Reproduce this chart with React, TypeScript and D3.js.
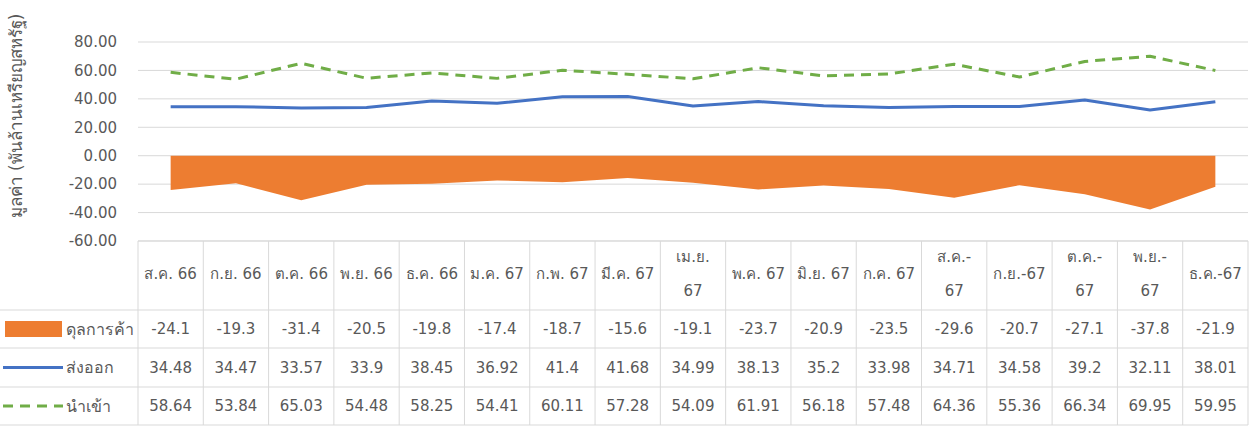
import React from 'react';
import * as d3 from 'd3';

const months = [
  ['ส.ค. 66'], ['ก.ย. 66'], ['ต.ค. 66'], ['พ.ย. 66'], ['ธ.ค. 66'], ['ม.ค. 67'],
  ['ก.พ. 67'], ['มี.ค. 67'], ['เม.ย.', '67'], ['พ.ค. 67'], ['มิ.ย. 67'], ['ก.ค. 67'],
  ['ส.ค.-', '67'], ['ก.ย.-67'], ['ต.ค.-', '67'], ['พ.ย.-', '67'], ['ธ.ค.-67'],
];
const balance = [-24.1, -19.3, -31.4, -20.5, -19.8, -17.4, -18.7, -15.6, -19.1, -23.7, -20.9, -23.5, -29.6, -20.7, -27.1, -37.8, -21.9];
const exports = [34.48, 34.47, 33.57, 33.9, 38.45, 36.92, 41.4, 41.68, 34.99, 38.13, 35.2, 33.98, 34.71, 34.58, 39.2, 32.11, 38.01];
const imports = [58.64, 53.84, 65.03, 54.48, 58.25, 54.41, 60.11, 57.28, 54.09, 61.91, 56.18, 57.48, 64.36, 55.36, 66.34, 69.95, 59.95];
const yTicks = [80, 60, 40, 20, 0, -20, -40, -60];

const W = 1251;
const H = 430;
const left = 138;
const right = 1248;
const top = 42;
const bottom = 241;
const rowBounds = [241, 310, 348, 387, 425];
const font = "'DejaVu Sans', 'Noto Sans', sans-serif";
const textColor = '#595959';
const gridColor = '#d9d9d9';

export default function App() {
  const x = d3.scaleBand<number>().domain(d3.range(months.length)).range([left, right]);
  const cx = (i: number) => (x(i) as number) + x.bandwidth() / 2;
  const y = d3.scaleLinear().domain([-60, 80]).range([bottom, top]);

  const area = d3.area<number>().x((_, i) => cx(i)).y0(y(0)).y1(d => y(d));
  const line = d3.line<number>().x((_, i) => cx(i)).y(d => y(d));

  const rows = [
    { name: 'ดุลการค้า', values: balance, kind: 'area' },
    { name: 'ส่งออก', values: exports, kind: 'line' },
    { name: 'นำเข้า', values: imports, kind: 'dash' },
  ];

  return (
    <svg width={W} height={H} style={{ position: 'absolute', left: 0, top: 0, background: '#fff' }} fontFamily={font}>
      {/* y grid + ticks */}
      {yTicks.map(t => (
        <g key={t}>
          <line x1={left} x2={right} y1={y(t)} y2={y(t)} stroke={gridColor} strokeWidth={1} />
          <text x={117} y={y(t)} dy="0.35em" textAnchor="end" fontSize={15} fill={textColor}>
            {t.toFixed(2)}
          </text>
        </g>
      ))}
      <text transform={`translate(22, 116) rotate(-90)`} textAnchor="middle" fontSize={17} fill={textColor}>
        มูลค่า (พันล้านเหรียญสหรัฐ)
      </text>

      {/* series */}
      <path d={area(balance) || ''} fill="#ED7D31" />
      <path d={line(exports) || ''} fill="none" stroke="#4472C4" strokeWidth={3} strokeLinejoin="round" />
      <path d={line(imports) || ''} fill="none" stroke="#70AD47" strokeWidth={3} strokeDasharray="10,7" strokeLinejoin="round" />

      {/* data table */}
      {rowBounds.map((b, i) => (
        <line key={'h' + i} x1={i < 1 ? left : 0} x2={right} y1={b} y2={b} stroke={gridColor} strokeWidth={1} />
      ))}
      {d3.range(months.length + 1).map(i => {
        const xx = i < months.length ? (x(i) as number) : right;
        return <line key={'v' + i} x1={xx} x2={xx} y1={rowBounds[0]} y2={rowBounds[4]} stroke={gridColor} strokeWidth={1} />;
      })}
      {months.map((m, i) => (
        <text key={'m' + i} x={cx(i)} textAnchor="middle" fontSize={15} fill={textColor}>
          {m.map((s, j) => (
            <tspan key={j} x={cx(i)} y={m.length === 1 ? 274 : 257 + j * 34} dy="0.35em">{s}</tspan>
          ))}
        </text>
      ))}
      {rows.map((r, ri) => {
        const mid = (rowBounds[ri + 1] + rowBounds[ri + 2]) / 2;
        return (
          <g key={r.name}>
            {r.kind === 'area' && <rect x={5} y={mid - 8} width={57} height={16} fill="#ED7D31" />}
            {r.kind === 'line' && <line x1={3} x2={63} y1={mid} y2={mid} stroke="#4472C4" strokeWidth={3} />}
            {r.kind === 'dash' && <line x1={3} x2={63} y1={mid} y2={mid} stroke="#70AD47" strokeWidth={3} strokeDasharray="10,7" />}
            <text x={66} y={mid} dy="0.35em" fontSize={16} fill={textColor}>{r.name}</text>
            {r.values.map((v, i) => (
              <text key={i} x={cx(i)} y={mid} dy="0.35em" textAnchor="middle" fontSize={15} fill={textColor}>
                {String(v)}
              </text>
            ))}
          </g>
        );
      })}
    </svg>
  );
}
